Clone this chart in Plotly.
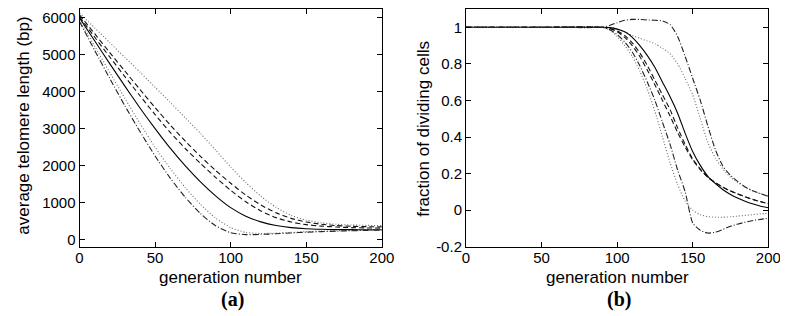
import plotly.graph_objects as go

# ---------------- data: panel (a) average telomere length ----------------
gen_a = [0, 10, 20, 30, 40, 50, 60, 70, 80, 90, 100, 110, 120, 130, 140, 150, 160, 170, 180, 190, 200]
tel_solid = [6000, 5380, 4760, 4150, 3560, 3000, 2470, 1990, 1560, 1180, 860, 630, 475, 375, 318, 288, 274, 267, 264, 262, 260]
tel_dashed_b = [6030, 5480, 4940, 4410, 3890, 3380, 2900, 2460, 2060, 1680, 1330, 1020, 770, 590, 470, 400, 360, 335, 320, 310, 305]
tel_dashed_a = [6080, 5570, 5060, 4560, 4060, 3570, 3100, 2660, 2250, 1870, 1520, 1200, 930, 720, 570, 470, 410, 375, 355, 345, 340]
tel_dotted_hi = [6130, 5730, 5330, 4930, 4530, 4120, 3710, 3290, 2870, 2420, 1960, 1540, 1170, 870, 650, 520, 450, 410, 390, 380, 375]
tel_dotted_lo = [5950, 5230, 4520, 3820, 3140, 2500, 1920, 1400, 950, 580, 320, 190, 160, 170, 190, 210, 225, 235, 245, 250, 255]
tel_dashdot_lo = [5900, 5120, 4360, 3620, 2920, 2260, 1660, 1140, 700, 370, 180, 130, 135, 155, 175, 195, 210, 225, 235, 245, 250]

# ---------------- data: panel (b) fraction of dividing cells ----------------
gen_b = [0, 50, 90, 95, 100, 105, 110, 115, 120, 125, 130, 135, 140, 145, 150, 155, 160, 165, 170, 175, 180, 185, 190, 195, 200]
frac_solid = [1, 1, 1, 0.998, 0.99, 0.975, 0.945, 0.9, 0.845, 0.78, 0.7, 0.62, 0.53, 0.42, 0.32, 0.245, 0.185, 0.145, 0.112, 0.086, 0.065, 0.048, 0.034, 0.022, 0.013]
frac_dashed_a = [1, 1, 1, 0.995, 0.98, 0.955, 0.915, 0.86, 0.79, 0.71, 0.63, 0.55, 0.45, 0.36, 0.28, 0.225, 0.18, 0.15, 0.125, 0.105, 0.088, 0.072, 0.058, 0.046, 0.036]
frac_dashed_b = [1, 1, 1, 0.993, 0.975, 0.945, 0.9, 0.84, 0.765, 0.685, 0.6, 0.515, 0.425, 0.345, 0.275, 0.222, 0.18, 0.15, 0.125, 0.105, 0.088, 0.072, 0.058, 0.046, 0.036]
frac_dotted_hi = [1, 1, 1, 1.0, 0.99, 0.975, 0.955, 0.94, 0.925, 0.91, 0.885, 0.855, 0.8, 0.72, 0.63, 0.5, 0.37, 0.285, 0.225, 0.18, 0.15, 0.125, 0.105, 0.09, 0.08]
frac_dashdot_hi = [1, 1, 1, 1.01, 1.025, 1.038, 1.043, 1.043, 1.04, 1.038, 1.035, 1.015, 0.95, 0.84, 0.72, 0.6, 0.46, 0.33, 0.24, 0.19, 0.155, 0.125, 0.105, 0.09, 0.075]
frac_dotted_lo = [1, 1, 1, 0.985, 0.95, 0.9, 0.84, 0.76, 0.66, 0.54, 0.4, 0.26, 0.14, 0.05, 0.0, -0.025, -0.035, -0.038, -0.038, -0.036, -0.032, -0.028, -0.024, -0.02, -0.017]
frac_dashdot_lo = [1, 1, 1, 0.988, 0.96, 0.92, 0.865, 0.79, 0.7, 0.6, 0.48, 0.36, 0.22, 0.1, -0.07, -0.11, -0.125, -0.12, -0.105, -0.088, -0.075, -0.065, -0.056, -0.05, -0.044]

x_ticks = [0, 50, 100, 150, 200]
ya_ticks = [0, 1000, 2000, 3000, 4000, 5000, 6000]
yb_ticks = [-0.2, 0, 0.2, 0.4, 0.6, 0.8, 1]
yb_ticktext = ["-0.2", "0", "0.2", "0.4", "0.6", "0.8", "1"]

# ---------------- styles ----------------
STY = {
    "solid": dict(color="#000000", width=1.1, dash="solid"),
    "dashed": dict(color="#111111", width=1.1, dash="5px,3px"),
    "dotted": dict(color="#6a6a6a", width=1.1, dash="1px,2px"),
    "dashdot": dict(color="#222222", width=1.1, dash="6px,2px,1px,2px"),
}

fig = go.Figure()

def add(x, y, style, xa, ya):
    fig.add_trace(go.Scatter(x=x, y=y, mode="lines", line=dict(shape="spline", smoothing=0.6, **STY[style]),
                             xaxis=xa, yaxis=ya, showlegend=False, hoverinfo="skip"))

for y, s in [(tel_dotted_hi, "dotted"), (tel_dashed_a, "dashed"), (tel_dashed_b, "dashed"),
             (tel_solid, "solid"), (tel_dotted_lo, "dotted"), (tel_dashdot_lo, "dashdot")]:
    add(gen_a, y, s, "x", "y")

for y, s in [(frac_dashdot_hi, "dashdot"), (frac_dotted_hi, "dotted"), (frac_solid, "solid"),
             (frac_dashed_a, "dashed"), (frac_dashed_b, "dashed"), (frac_dotted_lo, "dotted"),
             (frac_dashdot_lo, "dashdot")]:
    add(gen_b, y, s, "x2", "y2")

W, H = 788, 316
def px(x):
    return x / W
def py(y):
    return 1 - y / H

tickfont = dict(family="Liberation Sans, Arial, sans-serif", size=15, color="#000")
axis_common = dict(showline=True, linecolor="#000", linewidth=1, mirror="ticks", ticks="inside",
                   ticklen=5, tickcolor="#000", showgrid=False, zeroline=False, tickfont=tickfont)

ydom = [py(245), py(1)]
fig.update_layout(
    width=W, height=H, margin=dict(l=0, r=0, t=0, b=0),
    paper_bgcolor="white", plot_bgcolor="white",
    xaxis=dict(domain=[px(69), px(378)], range=[0, 200], tickvals=x_ticks, anchor="y",
               ticklabelstandoff=-3, **axis_common),
    yaxis=dict(domain=ydom, range=[-200, 6240], tickvals=ya_ticks, anchor="x", **axis_common),
    xaxis2=dict(domain=[px(464), px(773)], range=[0, 200], tickvals=x_ticks, anchor="y2",
                ticklabelstandoff=-3, **axis_common),
    yaxis2=dict(domain=ydom, range=[-0.2, 1.1], tickvals=yb_ticks, ticktext=yb_ticktext, anchor="x2", **axis_common),
)

titlefont = dict(family="Liberation Sans, Arial, sans-serif", size=17, color="#000")
labfont = dict(family="Liberation Serif, Times New Roman, serif", size=20, color="#000")
ann = [
    dict(text="generation number", x=px(223.5), y=py(277), font=titlefont),
    dict(text="generation number", x=px(618.5), y=py(277), font=titlefont),
    dict(text="<b>(a)</b>", x=px(225), y=py(299), font=labfont),
    dict(text="<b>(b)</b>", x=px(620), y=py(299), font=labfont),
    dict(text="average telomere length (bp)", x=px(12), y=py(121), font=titlefont, textangle=-90),
    dict(text="fraction of dividing cells", x=px(421), y=py(124), font=titlefont, textangle=-90),
]
for a in ann:
    fig.add_annotation(xref="paper", yref="paper", showarrow=False, xanchor="center", yanchor="middle",
                       borderpad=0, **a)

fig.write_html("out.html")
